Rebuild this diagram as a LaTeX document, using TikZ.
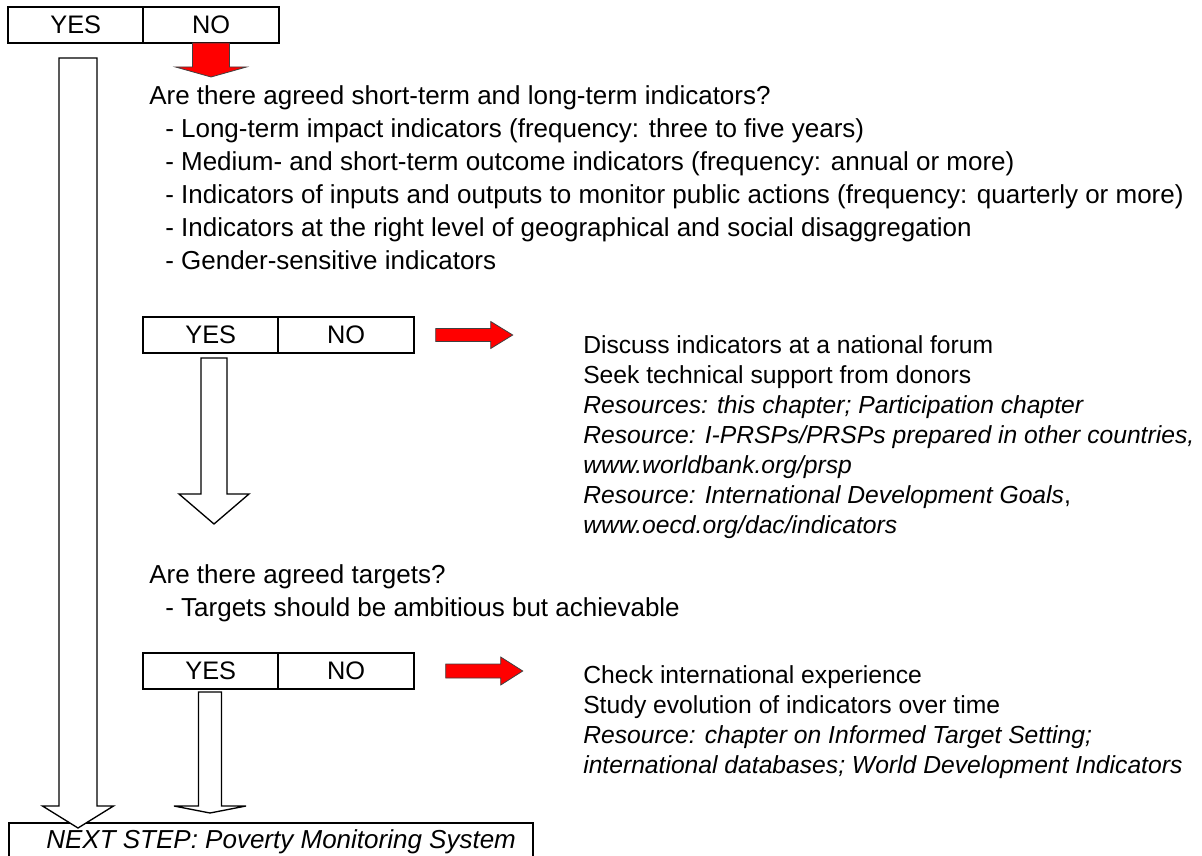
\documentclass[tikz,border=0pt]{standalone}
\usepackage{fontspec}
\setmainfont{Liberation Sans}
\usetikzlibrary{positioning}

% block arrows: style, start point, shaft half width, head half width, shaft length, head length
\newcommand{\downblock}[6]{%
  \draw[#1] ([shift={(-#3,0)}]#2) -- ++(0,#5) -- ++({#3-#4},0) -- ++(#4,#6)
    -- ++(#4,-#6) -- ++({#3-#4},0) -- ++(0,-#5) -- cycle;}
\newcommand{\rightblock}[6]{%
  \draw[#1] ([shift={(0,-#3)}]#2) -- ++(#5,0) -- ++(0,{#3-#4}) -- ++(#6,#4)
    -- ++(-#6,#4) -- ++(0,{#3-#4}) -- ++(-#5,0) -- cycle;}

\tikzset{
  cell/.style={draw,line width=1.5pt,minimum width=101.5pt,minimum height=27pt,
    inner sep=0pt,outer sep=0pt,font=\fontsize{19}{22}\selectfont},
  body/.style={anchor=base west,inner sep=0pt,align=left,font=\fontsize{19.5}{24.75}\selectfont},
  note/.style={anchor=base west,inner sep=0pt,align=left,font=\fontsize{18.5}{22.5}\selectfont},
  hollow/.style={draw,line width=1pt,fill=white,line join=miter},
  redblock/.style={draw=black!75,line width=0.6pt,fill=red,line join=miter},
}

\begin{document}
\begin{tikzpicture}[x=0.75pt,y=-0.75pt]
  \useasboundingbox (0,0) rectangle (1202,856);

  % yes / no boxes
  \node[cell] (yes1) at (75.7,25) {YES};
  \node[cell,right=0pt of yes1] (no1) {NO};
  \node[cell] (yes2) at (210.7,335) {YES};
  \node[cell,right=0pt of yes2] (no2) {NO};
  \node[cell] (yes3) at (210.7,671) {YES};
  \node[cell,right=0pt of yes3] (no3) {NO};

  \node[draw,line width=1.5pt,anchor=north west,inner xsep=13pt,inner ysep=6pt,
    text height=12.75pt,text depth=30pt,font=\fontsize{19.5}{22}\selectfont\itshape]
    (next) at (8,822) {\hspace*{15pt}NEXT STEP: Poverty Monitoring System};

  % questions (anchored on the last line)
  \node[body] (q1) at (149,269) {Are there agreed short-term and long-term indicators?\\
    \hspace*{12pt}- Long-term impact indicators (frequency: three to five years)\\
    \hspace*{12pt}- Medium- and short-term outcome indicators (frequency: annual or more)\\
    \hspace*{12pt}- Indicators of inputs and outputs to monitor public actions (frequency: quarterly or more)\\
    \hspace*{12pt}- Indicators at the right level of geographical and social disaggregation\\
    \hspace*{12pt}- Gender-sensitive indicators};
  \node[body] (q2) at (149,616) {Are there agreed targets?\\
    \hspace*{12pt}- Targets should be ambitious but achievable};

  % what to do on NO
  \node[note] (n1) at (583,533) {Discuss indicators at a national forum\\
    Seek technical support from donors\\
    \textit{Resources: this chapter; Participation chapter}\\
    \textit{Resource: I-PRSPs/PRSPs prepared in other countries,}\\
    \textit{www.worldbank.org/prsp}\\
    \textit{Resource: International Development Goals},\\
    \textit{www.oecd.org/dac/indicators}};
  \node[note] (n2) at (583,773) {Check international experience\\
    Study evolution of indicators over time\\
    \textit{Resource: chapter on Informed Target Setting;}\\
    \textit{international databases; World Development Indicators}};

  % arrows
  \coordinate (bigtop) at (78,58);
  \coordinate (midtop) at (214,358);
  \coordinate (lowtop) at (210,692);
  \coordinate (red2) at ([xshift=16.5pt]no2.east);
  \coordinate (red3) at ([xshift=24pt]no3.east);
  \downblock{hollow}{bigtop}{19}{35.5}{748}{22}
  \downblock{hollow}{midtop}{13}{35}{136}{30}
  \downblock{hollow}{lowtop}{11.5}{36}{114}{7}
  \downblock{redblock}{no1.south}{18.5}{35.5}{24}{10}
  \rightblock{redblock}{red2}{6.5}{13.5}{55}{22}
  \rightblock{redblock}{red3}{7}{14}{55}{22}
\end{tikzpicture}
\end{document}
